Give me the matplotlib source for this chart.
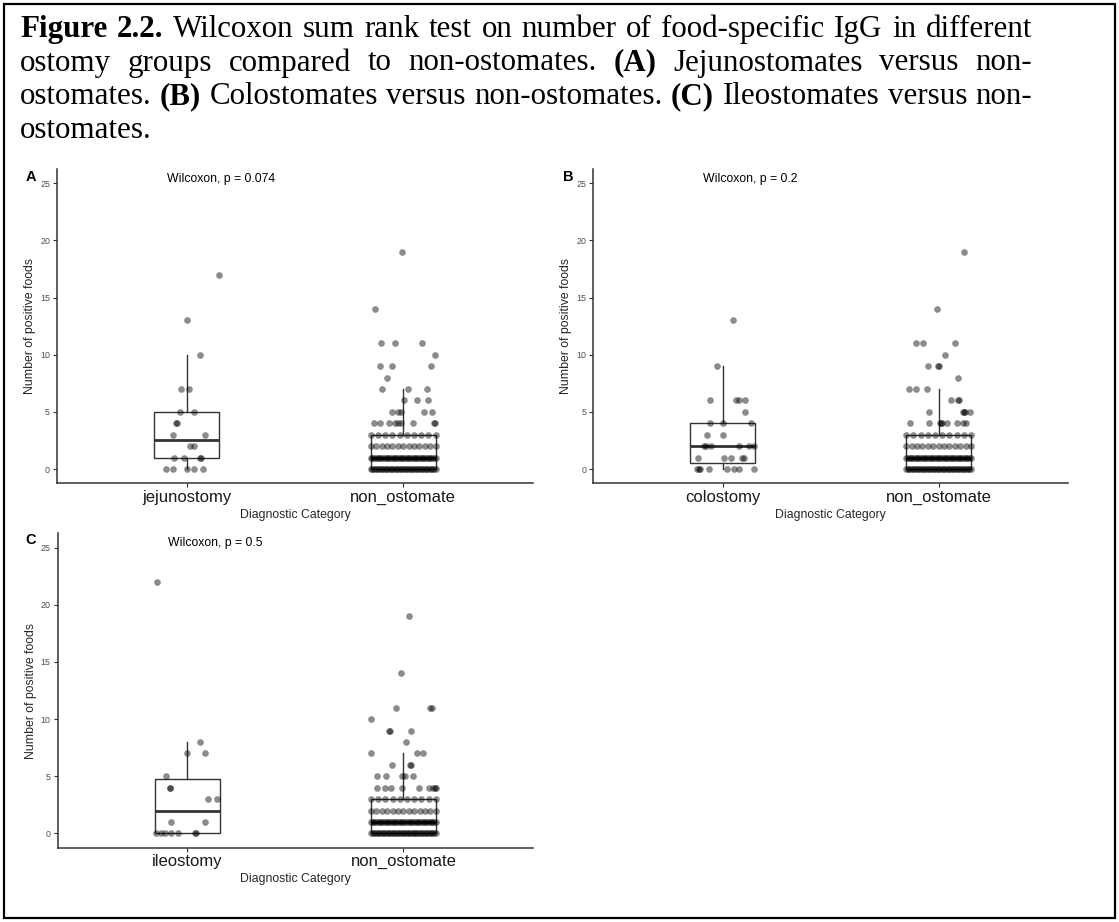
import matplotlib.pyplot as plt
import numpy as np
from matplotlib.patches import Rectangle

plt.rcParams['font.family'] = ['Liberation Sans', 'DejaVu Sans']

# ---- data ----
# non-ostomate group (same patients in every panel)
nonost_levels = [0, 1, 2, 3, 4, 5, 6, 7, 8, 9, 10, 11, 14, 19]
nonost_counts = [40, 38, 13, 10, 9, 5, 3, 3, 1, 3, 1, 3, 1, 1]

jejuno_vals = [17, 13, 10, 7, 7, 5, 5, 4, 4, 3, 3, 2, 2, 1, 1, 1, 1, 0, 0, 0, 0, 0]
colo_vals = [13, 9, 6, 6, 6, 6, 5, 4, 4, 4, 3, 3, 2, 2, 2, 2, 2, 2,
             1, 1, 1, 1, 1, 0, 0, 0, 0, 0, 0, 0, 0]
ileo_vals = [22, 8, 7, 7, 5, 4, 4, 3, 3, 1, 1, 0, 0, 0, 0, 0, 0, 0]

# horizontal jitter as seen in the picture
jejuno_jit = [0.147, 0.003, 0.062, -0.028, 0.008, -0.031, 0.031, -0.052, -0.046, -0.062, 0.086,
              0.015, 0.034, -0.057, -0.015, 0.059, 0.066, -0.096, -0.062, 0.0, 0.034, 0.076]
colo_jit = [0.049, -0.026, -0.057, 0.062, 0.077, 0.105, 0.102, -0.059, 0.0, 0.131, -0.074, 0.003,
            -0.085, -0.079, -0.056, 0.076, 0.120, 0.146, -0.116, 0.006, 0.038, 0.090, 0.099,
            -0.119, -0.112, -0.106, -0.063, 0.021, 0.050, 0.076, 0.143]
ileo_jit = [-0.139, 0.057, 0.0, 0.082, -0.097, -0.082, -0.078, 0.097, 0.139, -0.077, 0.082,
            -0.143, -0.123, -0.103, -0.075, -0.045, 0.034, 0.038]

# jitter of the sparse non-ostomate points (values >= 4, ascending) per panel
nonost_jit_a = [-0.134, -0.108, -0.065, -0.039, -0.023, -0.011, 0.046, 0.142, 0.147,
                -0.052, -0.026, -0.008, 0.097, 0.131,
                0.003, 0.062, 0.117,
                -0.097, 0.023, 0.111,
                -0.077,
                -0.105, -0.052, 0.128,
                0.147,
                -0.103, -0.039, 0.085,
                -0.131,
                -0.005]
nonost_jit_b = [-0.130, -0.045, 0.005, 0.012, 0.015, 0.040, 0.085, 0.113, 0.125,
                -0.046, 0.114, 0.118, 0.121, 0.145,
                0.056, 0.091, 0.096,
                -0.139, -0.106, -0.054,
                0.090,
                -0.048, -0.003, 0.003,
                0.031,
                -0.106, -0.073, 0.074,
                -0.006,
                0.117]
nonost_jit_c = [-0.120, -0.085, -0.057, -0.005, 0.074, 0.120, 0.139, 0.145, 0.150,
                -0.123, -0.080, -0.005, 0.008, 0.046,
                -0.051, 0.031, 0.037,
                -0.151, 0.062, 0.093,
                0.012,
                -0.068, -0.062, 0.034,
                -0.150,
                -0.035, 0.125, 0.131,
                -0.012,
                0.028]

panel_letters = ['A', 'B', 'C']
group_names = ['jejunostomy', 'colostomy', 'ileostomy']
p_labels = ['Wilcoxon, p = 0.074', 'Wilcoxon, p = 0.2', 'Wilcoxon, p = 0.5']

title_lines = [
    [('Figure 2.2.', True), ('Wilcoxon sum rank test on number of food-specific IgG in different', False)],
    [('ostomy groups compared to non-ostomates.', False), ('(A)', True), ('Jejunostomates versus non-', False)],
    [('ostomates.', False), ('(B)', True), ('Colostomates versus non-ostomates.', False), ('(C)', True),
     ('Ileostomates versus non-', False)],
    [('ostomates.', False)],
]

# ---- build ----
W, H = 1119, 922
fig = plt.figure(figsize=(W / 100, H / 100), dpi=100)
renderer = fig.canvas.get_renderer()

nonost_vals = np.repeat(nonost_levels, nonost_counts)


def nonost_jitter(sparse):
    # dense low rows are spread across the box width, sparse points as read
    jit = []
    for lv, c in zip(nonost_levels, nonost_counts):
        if lv < 4:
            jit += list(np.linspace(-0.15, 0.15, c))
    return np.array(jit + sparse)


groups = [
    (jejuno_vals, jejuno_jit, nonost_jit_a),
    (colo_vals, colo_jit, nonost_jit_b),
    (ileo_vals, ileo_jit, nonost_jit_c),
]

rects = [
    [57.0 / W, 1 - 483.3 / H, 476.0 / W, 314.3 / H],
    [593.3 / W, 1 - 483.3 / H, 474.7 / W, 314.3 / H],
    [57.7 / W, 1 - 847.7 / H, 475.3 / W, 314.3 / H],
]
letter_pos = [(31, 177), (568, 177), (31, 540)]

line_col = '#333333'
for i in range(3):
    vals, jit, njit = groups[i]
    ax = fig.add_axes(rects[i])
    ax.boxplot([vals, nonost_vals], positions=[1, 2], widths=0.3, showfliers=False,
               showcaps=False, whis=1.5, patch_artist=True,
               boxprops=dict(facecolor='white', edgecolor=line_col, linewidth=1.0),
               medianprops=dict(color=line_col, linewidth=2.0),
               whiskerprops=dict(color=line_col, linewidth=1.0))
    ax.scatter(1 + np.array(jit), vals, s=23, color='black', alpha=0.45, linewidths=0, zorder=3)
    ax.scatter(2 + nonost_jitter(njit), nonost_vals, s=23, color='black', alpha=0.45,
               linewidths=0, zorder=3)

    ax.set_xlim(0.4, 2.6)
    ax.set_ylim(-1.25, 26.25)
    ax.set_yticks([0, 5, 10, 15, 20, 25])
    ax.set_xticks([1, 2])
    ax.set_xticklabels([group_names[i], 'non_ostomate'], fontsize=12, color='#1a1a1a')
    ax.tick_params(axis='y', labelsize=6.4, labelcolor='#4d4d4d', colors='#333333', length=3, width=0.8, pad=2)
    ax.tick_params(axis='x', colors='#333333', length=3, width=0.8, pad=1.5)
    for lab in ax.get_xticklabels():
        lab.set_color('#1a1a1a')
    for sp in ['top', 'right']:
        ax.spines[sp].set_visible(False)
    for sp in ['left', 'bottom']:
        ax.spines[sp].set_color(line_col)
        ax.spines[sp].set_linewidth(1.1)
    ax.set_xlabel('Diagnostic Category', fontsize=8.8, color='#262626', labelpad=3)
    ax.set_ylabel('Number of positive foods', fontsize=8.8, color='#262626', labelpad=3)
    ax.text(0.91, 25.4, p_labels[i], fontsize=8.8, ha='left', va='center')
    ax.patch.set_alpha(0)

    lx, ly = letter_pos[i]
    fig.text(lx / W, 1 - ly / H, panel_letters[i], fontsize=10.5, fontweight='bold',
             ha='center', va='center')

# caption, justified like the Word paragraph (last line left aligned)
fs = 22.3
space_px = 0.25 * fs * 100 / 72
left_px, right_px = 20.0, 1032.0
baselines = [37, 70.5, 104, 137.5]
for k, (line, yb) in enumerate(zip(title_lines, baselines)):
    words = []
    for txt, bold in line:
        for w in txt.split():
            words.append((w, bold))
    arts = []
    for w, bold in words:
        t = fig.text(0, 1 - yb / H, w, fontsize=fs, family='Liberation Serif',
                     fontweight='bold' if bold else 'normal', va='baseline', ha='left')
        arts.append((t, t.get_window_extent(renderer=renderer).width))
    total = sum(wd for _, wd in arts)
    gap = space_px
    if k < len(title_lines) - 1 and len(arts) > 1:
        gap = (right_px - left_px - total) / (len(arts) - 1)
    x = left_px
    for t, wd in arts:
        t.set_x(x / W)
        x += wd + gap

# frame around the whole figure
fig.patches.append(Rectangle((4 / W, 4 / H), 1111 / W, 914 / H, transform=fig.transFigure,
                             fill=False, edgecolor='black', linewidth=1.6))

plt.savefig('out.png', dpi=100)
